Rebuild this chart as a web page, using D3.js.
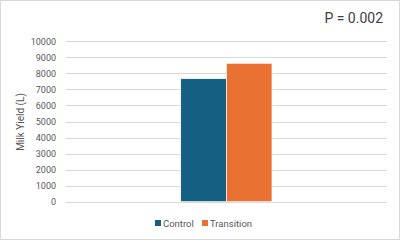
<!DOCTYPE html>
<html>
  <head>
    <meta charset="utf-8" />
    <style>
      body { margin: 0; background: #fff; }
      text { font-family: Roboto, sans-serif; fill: #595959; }
    </style>
    <script src="https://d3js.org/d3.v7.min.js"></script>
  </head>
  <body>
    <svg width="400" height="240"></svg>
    <script>
      // data
      var series = ['Control', 'Transition']
      var values = [7670, 8630]
      var colors = ['#156082', '#E97132']
      var yTicks = [0, 1000, 2000, 3000, 4000, 5000, 6000, 7000, 8000, 9000, 10000]

      var svg = d3.select('svg')

      svg.append('rect')
        .attr('x', 0.5).attr('y', 0.5)
        .attr('width', 399).attr('height', 239)
        .attr('fill', '#fff').attr('stroke', '#d9d9d9')

      var plotLeft = 66, plotRight = 387, plotTop = 41.3, plotBottom = 201.7

      var y = d3.scaleLinear().domain([0, 10000]).range([plotBottom, plotTop])
      var x = d3.scaleBand().domain(series).range([180.7, 272]).padding(0)

      // gridlines
      svg.selectAll('.grid')
        .data(yTicks)
        .enter()
        .append('line')
        .attr('x1', plotLeft).attr('x2', plotRight)
        .attr('y1', function (d) { return Math.round(y(d)) + 0.5 })
        .attr('y2', function (d) { return Math.round(y(d)) + 0.5 })
        .attr('stroke', '#d9d9d9')
        .attr('stroke-width', 1)

      // tick labels
      svg.selectAll('.tick-label')
        .data(yTicks)
        .enter()
        .append('text')
        .attr('x', 56)
        .attr('y', function (d) { return y(d) + 3.2 })
        .attr('text-anchor', 'end')
        .style('font-size', '9px')
        .text(function (d) { return d })

      // bars
      svg.selectAll('.bar')
        .data(series)
        .enter()
        .append('rect')
        .attr('x', function (d) { return x(d) })
        .attr('width', x.bandwidth())
        .attr('y', function (d, i) { return y(values[i]) })
        .attr('height', function (d, i) { return plotBottom - y(values[i]) })
        .attr('fill', function (d, i) { return colors[i] })
        .attr('stroke', '#fff')
        .attr('stroke-width', 0.7)

      // y axis title
      svg.append('text')
        .attr('transform', 'translate(24,122) rotate(-90)')
        .attr('text-anchor', 'middle')
        .style('font-size', '10px')
        .text('Milk Yield (L)')

      // P value
      svg.append('text')
        .attr('x', 383).attr('y', 22.5)
        .attr('text-anchor', 'end')
        .style('font-size', '14px')
        .style('fill', '#404040')
        .text('P = 0.002')

      // legend
      var legendX = [155, 202]
      var lg = svg.selectAll('.legend')
        .data(series)
        .enter()
        .append('g')
        .attr('transform', function (d, i) { return 'translate(' + legendX[i] + ',223)' })
      lg.append('rect')
        .attr('x', 0).attr('y', -3)
        .attr('width', 6).attr('height', 6)
        .attr('fill', function (d, i) { return colors[i] })
      lg.append('text')
        .attr('x', 8).attr('y', 3.5)
        .style('font-size', '9.5px')
        .text(function (d) { return d })
    </script>
  </body>
</html>
